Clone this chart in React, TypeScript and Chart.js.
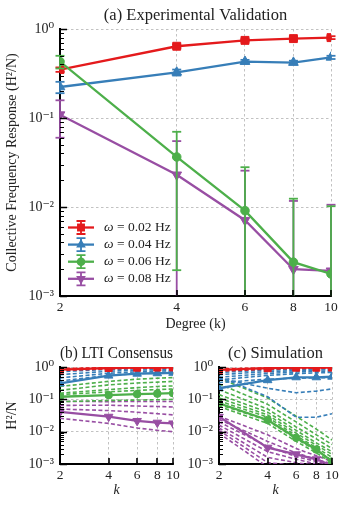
import React, { useEffect, useRef } from 'react';
import { Chart, registerables } from 'chart.js';

Chart.register(...registerables);

const FONT = "'Liberation Serif', 'DejaVu Serif', serif";
const TEXT = '#222222';

// ---------- shared axes ----------
const degrees = [2, 4, 6, 8, 10];
const xTickValues = [2, 4, 6, 8, 10];
const yTickValues = [0.001, 0.01, 0.1, 1];
const yTickLabels = ['10⁻³', '10⁻²', '10⁻¹', '10⁰'];

const seriesLabels = ['0.02 Hz', '0.04 Hz', '0.06 Hz', '0.08 Hz'];
const seriesColors = ['#e41a1c', '#377eb8', '#4daf4a', '#984ea3'];
const seriesMarkers = ['rect', 'triangle', 'circle', 'triangle'];
const seriesRotation = [0, 0, 0, 180];
const seriesOrder = [4, 3, 1, 2];

// ---------- (a) Experimental Validation ----------
const expRed = [0.35, 0.64, 0.745, 0.78, 0.8];
const expRedLo = [0.33, 0.61, 0.72, 0.75, 0.77];
const expRedHi = [0.37, 0.67, 0.77, 0.81, 0.83];
const expBlue = [0.223, 0.326, 0.43, 0.42, 0.48];
const expBlueLo = [0.19, 0.3, 0.41, 0.4, 0.46];
const expBlueHi = [0.255, 0.35, 0.45, 0.44, 0.5];
const expGreen = [0.43, 0.0365, 0.0091, 0.0024, 0.00177];
const expGreenLo = [0.36, 0.00195, 0.00001, 0.00001, 0.00001];
const expGreenHi = [0.5, 0.07, 0.028, 0.0124, 0.0102];
const expPurple = [0.109, 0.023, 0.0071, 0.002, 0.00192];
const expPurpleLo = [0.06, 0.00001, 0.00001, 0.00001, 0.00001];
const expPurpleHi = [0.158, 0.055, 0.0256, 0.0117, 0.0106];

// ---------- (b) LTI Consensus ----------
const ltiRed = [0.83, 0.93, 0.95, 0.96, 0.97];
const ltiBlue = [0.31, 0.54, 0.62, 0.64, 0.66];
const ltiGreen = [0.12, 0.135, 0.145, 0.15, 0.155];
const ltiPurple = [0.041, 0.029, 0.0215, 0.019, 0.018];
const ltiRedDashed = [
  [0.9, 0.95, 0.97, 0.98, 0.98],
  [0.78, 0.88, 0.92, 0.93, 0.94],
];
const ltiBlueDashed = [
  [0.72, 0.84, 0.88, 0.9, 0.9],
  [0.58, 0.74, 0.8, 0.82, 0.84],
  [0.46, 0.64, 0.71, 0.74, 0.77],
  [0.37, 0.55, 0.62, 0.66, 0.69],
];
const ltiGreenDashed = [
  [0.25, 0.36, 0.42, 0.45, 0.47],
  [0.19, 0.28, 0.32, 0.34, 0.36],
  [0.155, 0.2, 0.23, 0.25, 0.26],
  [0.14, 0.17, 0.19, 0.2, 0.21],
  [0.085, 0.092, 0.095, 0.097, 0.1],
];
const ltiPurpleDashed = [
  [0.086, 0.085, 0.086, 0.086, 0.086],
  [0.065, 0.066, 0.062, 0.06, 0.058],
  [0.05, 0.045, 0.04, 0.036, 0.033],
  [0.026, 0.018, 0.013, 0.011, 0.01],
];

// ---------- (c) Simulation ----------
const simRed = [0.82, 0.92, 0.95, 0.95, 0.96];
const simBlue = [0.22, 0.39, 0.48, 0.48, 0.5];
const simGreen = [0.075, 0.023, 0.0065, 0.0028, 0.0012];
const simPurple = [0.029, 0.0032, 0.002, 0.0014, 0.0009];
const simRedDashed = [
  [0.88, 0.94, 0.96, 0.97, 0.97],
  [0.74, 0.86, 0.9, 0.92, 0.93],
];
const simBlueDashed = [
  [0.78, 0.86, 0.88, 0.9, 0.9],
  [0.68, 0.8, 0.84, 0.86, 0.87],
  [0.58, 0.72, 0.77, 0.8, 0.82],
  [0.48, 0.63, 0.7, 0.73, 0.75],
  [0.4, 0.55, 0.62, 0.66, 0.68],
  [0.33, 0.42, 0.45, 0.46, 0.47],
  [0.45, 0.22, 0.16, 0.18, 0.21],
  [0.5, 0.12, 0.028, 0.028, 0.036],
];
const simGreenDashed = [
  [0.45, 0.11, 0.03, 0.012, 0.0055],
  [0.3, 0.07, 0.02, 0.008, 0.004],
  [0.2, 0.05, 0.014, 0.006, 0.003],
  [0.14, 0.04, 0.011, 0.0045, 0.0024],
  [0.11, 0.033, 0.009, 0.0038, 0.002],
  [0.09, 0.028, 0.0075, 0.0032, 0.0016],
  [0.07, 0.022, 0.006, 0.0026, 0.0013],
  [0.06, 0.018, 0.005, 0.0022, 0.0011],
];
const simPurpleDashed = [
  [0.03, 0.008, 0.003, 0.0018, 0.0012],
  [0.024, 0.005, 0.0022, 0.0014, 0.001],
  [0.02, 0.0035, 0.0017, 0.0012, 0.0009],
  [0.016, 0.0024, 0.0014, 0.001, 0.0009],
  [0.013, 0.0016, 0.0011, 0.0009, 0.0008],
  [0.011, 0.0011, 0.0009, 0.0008, 0.0008],
  [0.009, 0.0008, 0.0008, 0.0008, 0.0008],
];

// ---------- helpers ----------
const toPoints = (values: number[]) => values.map((v, j) => ({ x: degrees[j], y: v }));

function markerRadius(i: number, scale: number) {
  const base = seriesMarkers[i] === 'circle' ? 4.3 : 5.6;
  return base * scale;
}

function solidSet(i: number, values: number[], scale: number, extra: any = {}) {
  return {
    label: 'ω = ' + seriesLabels[i],
    data: toPoints(values),
    borderColor: seriesColors[i],
    backgroundColor: seriesColors[i],
    pointBackgroundColor: seriesColors[i],
    pointBorderColor: seriesColors[i],
    pointBorderWidth: 1,
    borderWidth: 2.3,
    pointStyle: seriesMarkers[i],
    pointRotation: seriesRotation[i],
    pointRadius: markerRadius(i, scale),
    tension: 0,
    order: 0,
    ...extra,
  };
}

function dashedSets(i: number, lines: number[][]) {
  return lines.map((values) => ({
    label: '',
    data: toPoints(values),
    borderColor: seriesColors[i],
    borderWidth: 1.6,
    borderDash: [4, 2.4],
    pointRadius: 0,
    tension: 0,
    order: 5,
  }));
}

function xScale(titleText: string, italic: boolean, padBottom: number, height: number) {
  return {
    type: 'logarithmic',
    position: 'bottom',
    min: 2,
    max: 10,
    afterBuildTicks: (s: any) => {
      s.ticks = xTickValues.map((v) => ({ value: v }));
    },
    afterFit: (s: any) => {
      s.height = height;
    },
    ticks: {
      autoSkip: false,
      maxRotation: 0,
      padding: 3,
      color: TEXT,
      font: { family: FONT, size: 13.5 },
      callback: (v: any) => String(v),
    },
    grid: { color: '#b3b3b3', lineWidth: 0.8, drawTicks: false },
    border: { display: true, color: '#000', width: 2, dash: [2.5, 2.5] },
    title: {
      display: true,
      text: titleText,
      color: TEXT,
      font: { family: FONT, size: 14, style: italic ? 'italic' : 'normal' },
      padding: { top: padBottom, bottom: padBottom },
    },
  };
}

function yScale(titleText: string | null, width: number) {
  return {
    type: 'logarithmic',
    position: 'left',
    min: 0.001,
    max: 1,
    afterBuildTicks: (s: any) => {
      s.ticks = yTickValues.map((v) => ({ value: v }));
    },
    afterFit: (s: any) => {
      s.width = width;
    },
    ticks: {
      autoSkip: false,
      padding: 6,
      color: TEXT,
      font: { family: FONT, size: 14 },
      callback: (v: any) => {
        const k = yTickValues.findIndex((t) => Math.abs(t - v) < t * 1e-6);
        return k >= 0 ? yTickLabels[k] : '';
      },
    },
    grid: { color: '#b3b3b3', lineWidth: 0.8, drawTicks: false },
    border: { display: true, color: '#000', width: 2, dash: [2.5, 2.5] },
    title: {
      display: !!titleText,
      text: titleText || '',
      color: TEXT,
      font: { family: FONT, size: 14 },
      padding: { top: 3.5, bottom: 3.5 },
    },
  };
}

const inwardTicks = {
  id: 'inwardTicks',
  afterDraw(chart: any) {
    const { ctx, chartArea: a } = chart;
    const xs = chart.scales.x;
    const ys = chart.scales.y;
    ctx.save();
    ctx.strokeStyle = '#000';
    for (let e = -3; e <= 0; e++) {
      for (let m = 1; m <= 9; m++) {
        if (e === 0 && m > 1) continue;
        const v = m * Math.pow(10, e);
        const py = Math.round(ys.getPixelForValue(v)) + 0.5;
        ctx.lineWidth = m === 1 ? 1.5 : 1;
        const len = m === 1 ? 7 : 4;
        ctx.beginPath();
        ctx.moveTo(a.left, py);
        ctx.lineTo(a.left + len, py);
        ctx.stroke();
      }
    }
    ctx.lineWidth = 1.6;
    xTickValues.forEach((v) => {
      const px = Math.round(xs.getPixelForValue(v));
      ctx.beginPath();
      ctx.moveTo(px, a.bottom);
      ctx.lineTo(px, a.bottom - 6);
      ctx.stroke();
    });
    ctx.restore();
  },
};

const errorBars = {
  id: 'errorBars',
  afterDatasetDraw(chart: any, args: any) {
    const ds = chart.data.datasets[args.index];
    if (!ds.errLo) return;
    const { ctx, chartArea: a } = chart;
    const xs = chart.scales.x;
    const ys = chart.scales.y;
    ctx.save();
    ctx.beginPath();
    ctx.rect(a.left - 6, a.top - 6, a.right - a.left + 12, a.bottom - a.top + 6);
    ctx.clip();
    ctx.strokeStyle = ds.borderColor;
    ctx.lineWidth = 1.8;
    ds.data.forEach((pt: any, j: number) => {
      const px = xs.getPixelForValue(pt.x);
      const yl = Math.min(ys.getPixelForValue(ds.errLo[j]), a.bottom);
      const yh = ys.getPixelForValue(ds.errHi[j]);
      ctx.beginPath();
      ctx.moveTo(px, yl);
      ctx.lineTo(px, yh);
      ctx.stroke();
      const caps = [yh];
      if (ys.getPixelForValue(ds.errLo[j]) <= a.bottom) caps.push(yl);
      caps.forEach((cy) => {
        ctx.beginPath();
        ctx.moveTo(px - 4.5, cy);
        ctx.lineTo(px + 4.5, cy);
        ctx.stroke();
      });
    });
    ctx.restore();
  },
};

function drawMarker(ctx: any, i: number, x: number, y: number, r: number) {
  ctx.fillStyle = seriesColors[i];
  ctx.beginPath();
  const style = seriesMarkers[i];
  if (style === 'rect') {
    const s = r * Math.SQRT1_2;
    ctx.rect(x - s, y - s, 2 * s, 2 * s);
  } else if (style === 'circle') {
    ctx.arc(x, y, r, 0, Math.PI * 2);
  } else {
    const d = seriesRotation[i] === 180 ? -1 : 1;
    ctx.moveTo(x, y - d * r);
    ctx.lineTo(x + r * 0.866, y + d * r * 0.5);
    ctx.lineTo(x - r * 0.866, y + d * r * 0.5);
    ctx.closePath();
  }
  ctx.fill();
}

const freqLegend = {
  id: 'freqLegend',
  afterDraw(chart: any) {
    const { ctx, chartArea: a } = chart;
    ctx.save();
    seriesLabels.forEach((lab, i) => {
      const cy = a.bottom - 68.5 + i * 17.1;
      const x0 = a.left + 8;
      const x1 = a.left + 34;
      const cx = (x0 + x1) / 2;
      ctx.strokeStyle = seriesColors[i];
      ctx.lineWidth = 2.3;
      ctx.beginPath();
      ctx.moveTo(x0, cy);
      ctx.lineTo(x1, cy);
      ctx.stroke();
      ctx.lineWidth = 1.8;
      ctx.beginPath();
      ctx.moveTo(cx, cy - 6.5);
      ctx.lineTo(cx, cy + 6.5);
      ctx.moveTo(cx - 4.5, cy - 6.5);
      ctx.lineTo(cx + 4.5, cy - 6.5);
      ctx.moveTo(cx - 4.5, cy + 6.5);
      ctx.lineTo(cx + 4.5, cy + 6.5);
      ctx.stroke();
      drawMarker(ctx, i, cx, cy, markerRadius(i, 1));
      ctx.fillStyle = TEXT;
      ctx.textBaseline = 'middle';
      ctx.textAlign = 'left';
      ctx.font = `italic 13.5px ${FONT}`;
      const tx = a.left + 44;
      ctx.fillText('ω', tx, cy);
      const w = ctx.measureText('ω').width;
      ctx.font = `13.5px ${FONT}`;
      ctx.fillText(' = ' + lab, tx + w, cy);
    });
    ctx.restore();
  },
};

function baseOptions(title: string, titlePad: { top: number; bottom: number }, right: number, x: any, y: any) {
  return {
    animation: false,
    responsive: false,
    devicePixelRatio: 1,
    events: [],
    layout: { padding: { left: 0, right, top: 0, bottom: 0 } },
    plugins: {
      legend: { display: false },
      tooltip: { enabled: false },
      title: {
        display: true,
        text: title,
        fullSize: false,
        color: TEXT,
        font: { family: FONT, size: 16.5, weight: 'normal' },
        padding: titlePad,
      },
    },
    scales: { x, y },
  };
}

function panelDatasets(solids: number[][], dashed: number[][][]) {
  const sets: any[] = [];
  dashed.forEach((lines, i) => sets.push(...dashedSets(i, lines)));
  solids.forEach((vals, i) => sets.push(solidSet(i, vals, 0.88, { order: 0 })));
  return sets;
}

export default function App() {
  const refA = useRef<HTMLCanvasElement>(null);
  const refB = useRef<HTMLCanvasElement>(null);
  const refC = useRef<HTMLCanvasElement>(null);

  useEffect(() => {
    const charts: Chart[] = [];

    const expValues = [expRed, expBlue, expGreen, expPurple];
    const expLo = [expRedLo, expBlueLo, expGreenLo, expPurpleLo];
    const expHi = [expRedHi, expBlueHi, expGreenHi, expPurpleHi];
    const aSets = expValues.map((vals, i) =>
      solidSet(i, vals, 1, { errLo: expLo[i], errHi: expHi[i], order: seriesOrder[i] }),
    );

    charts.push(
      new Chart(refA.current as HTMLCanvasElement, {
        type: 'line',
        data: { datasets: aSets },
        options: baseOptions(
          '(a) Experimental Validation',
          { top: 6, bottom: 3.2 },
          17,
          xScale('Degree (k)', false, 7.6, 44),
          yScale('Collective Frequency Response (H²/N)', 60),
        ) as any,
        plugins: [errorBars, inwardTicks, freqLegend],
      } as any),
    );

    charts.push(
      new Chart(refB.current as HTMLCanvasElement, {
        type: 'line',
        data: {
          datasets: panelDatasets(
            [ltiRed, ltiBlue, ltiGreen, ltiPurple],
            [ltiRedDashed, ltiBlueDashed, ltiGreenDashed, ltiPurpleDashed],
          ),
        },
        options: baseOptions(
          '(b) LTI Consensus',
          { top: 4, bottom: 3.2 },
          17,
          xScale('k', true, 9, 44),
          yScale('H²/N', 60),
        ) as any,
        plugins: [inwardTicks],
      } as any),
    );

    charts.push(
      new Chart(refC.current as HTMLCanvasElement, {
        type: 'line',
        data: {
          datasets: panelDatasets(
            [simRed, simBlue, simGreen, simPurple],
            [simRedDashed, simBlueDashed, simGreenDashed, simPurpleDashed],
          ),
        },
        options: baseOptions(
          '(c) Simulation',
          { top: 4, bottom: 3.2 },
          16,
          xScale('k', true, 9, 44),
          yScale(null, 45),
        ) as any,
        plugins: [inwardTicks],
      } as any),
    );

    return () => charts.forEach((c) => c.destroy());
  }, []);

  return (
    <div style={{ position: 'absolute', left: 0, top: 0, width: 348, height: 508, background: '#fff' }}>
      <canvas ref={refA} width={348} height={340} style={{ position: 'absolute', left: 0, top: 0 }} />
      <canvas ref={refB} width={190} height={168} style={{ position: 'absolute', left: 0, top: 340 }} />
      <canvas ref={refC} width={174} height={168} style={{ position: 'absolute', left: 174, top: 340 }} />
    </div>
  );
}
